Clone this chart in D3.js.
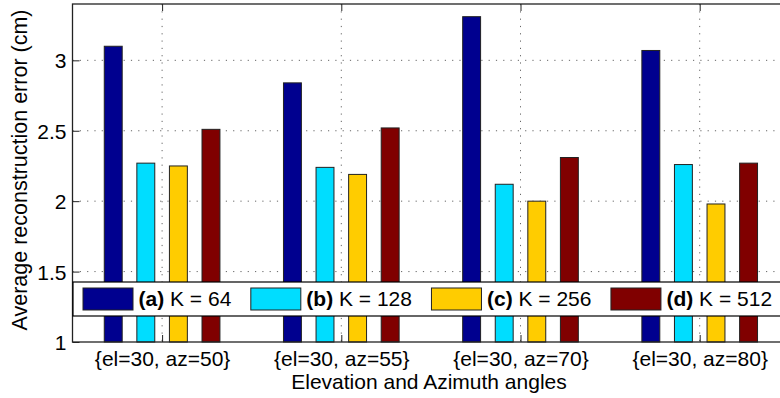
<!DOCTYPE html>
<html>
<head>
<meta charset="utf-8">
<script src="https://cdn.jsdelivr.net/npm/d3@7"></script>
<style>
  html, body { margin: 0; padding: 0; background: #fff; }
  svg { display: block; font-family: "Liberation Sans", Arial, sans-serif; }
</style>
</head>
<body>
<svg id="chart" width="780" height="398"></svg>
<script>
// Categories (viewing angles) and one series per dictionary size K
const categories = ["{el=30, az=50}", "{el=30, az=55}", "{el=30, az=70}", "{el=30, az=80}"];
const seriesNames = ["K = 64", "K = 128", "K = 256", "K = 512"];
const seriesTags = ["(a)", "(b)", "(c)", "(d)"];
const seriesColors = ["#00008f", "#00ddff", "#ffcc00", "#800000"];
const valuesK64 = [3.10, 2.84, 3.31, 3.07];
const valuesK128 = [2.27, 2.24, 2.12, 2.26];
const valuesK256 = [2.25, 2.19, 2.00, 1.98];
const valuesK512 = [2.51, 2.52, 2.31, 2.27];
const series = [valuesK64, valuesK128, valuesK256, valuesK512];
const yTicks = [1, 1.5, 2, 2.5, 3];
const yLabel = "Average reconstruction error (cm)";
const xLabel = "Elevation and Azimuth angles";

const svg = d3.select("#chart");
const fontSize = 21;

// Axes box (the right side runs past the canvas edge)
const plotLeft = 72.5, plotRight = 789.3, plotTop = 4, plotBottom = 342;
const x = d3.scaleLinear().domain([0.5, categories.length + 0.5]).range([plotLeft, plotRight]);
const y = d3.scaleLinear().domain([1, 3.4]).range([plotBottom, plotTop]);

const barOffsets = [-0.2727, -0.0909, 0.0909, 0.2727];
const barWidth = 0.1;

// Dotted grid
const grid = svg.append("g")
  .attr("stroke", "#666").attr("stroke-width", 1)
  .attr("stroke-dasharray", "1.2,6.1").attr("fill", "none");
grid.selectAll("line.h").data(yTicks.filter(t => t > 1)).join("line")
  .attr("x1", plotLeft).attr("x2", plotRight)
  .attr("y1", d => y(d)).attr("y2", d => y(d));
grid.selectAll("line.v").data(categories.map((c, i) => i + 1)).join("line")
  .attr("x1", d => x(d)).attr("x2", d => x(d))
  .attr("y1", plotTop).attr("y2", plotBottom);

// Bars
const bars = svg.append("g");
series.forEach((vals, s) => {
  bars.selectAll(null).data(vals).join("rect")
    .attr("x", (d, i) => x(i + 1 + barOffsets[s] - barWidth / 2))
    .attr("width", x(barWidth) - x(0))
    .attr("y", d => y(d))
    .attr("height", d => y(1) - y(d))
    .attr("fill", seriesColors[s])
    .attr("stroke", "#222").attr("stroke-width", 1);
});

// Axes with inward ticks, using d3 axis generators
const xAxisBottom = d3.axisBottom(x).tickValues(categories.map((c, i) => i + 1))
  .tickSizeInner(-7).tickSizeOuter(0).tickFormat((d) => categories[d - 1]);
const xAxisTop = d3.axisTop(x).tickValues(categories.map((c, i) => i + 1))
  .tickSizeInner(-7).tickSizeOuter(0).tickFormat("");
const yAxisLeft = d3.axisLeft(y).tickValues(yTicks)
  .tickSizeInner(-7).tickSizeOuter(0).tickFormat(d3.format("")).tickPadding(6);

function styleAxis(g) {
  g.select(".domain").remove();
  g.selectAll(".tick line").attr("stroke", "#222").attr("stroke-width", 1);
  g.selectAll(".tick text").attr("fill", "#000")
    .attr("font-size", fontSize).attr("font-family", "Liberation Sans, Arial, sans-serif");
}

svg.append("g").attr("transform", `translate(0,${plotBottom})`).call(xAxisBottom).call(styleAxis)
  .selectAll(".tick text").attr("dy", "0").attr("y", 24);
svg.append("g").attr("transform", `translate(0,${plotTop})`).call(xAxisTop).call(styleAxis);
svg.append("g").attr("transform", `translate(${plotLeft},0)`).call(yAxisLeft).call(styleAxis)
  .selectAll(".tick text").attr("dy", "0.36em");

// Box
svg.append("rect").attr("x", plotLeft).attr("y", plotTop)
  .attr("width", plotRight - plotLeft).attr("height", plotBottom - plotTop)
  .attr("fill", "none").attr("stroke", "#222").attr("stroke-width", 1.3);

// Axis titles
svg.append("text")
  .attr("x", 429).attr("y", 389)
  .attr("text-anchor", "middle").attr("font-size", fontSize).attr("fill", "#000")
  .text(xLabel);
svg.append("text")
  .attr("transform", "translate(27,170) rotate(-90)")
  .attr("text-anchor", "middle").attr("font-size", 21.5).attr("fill", "#000")
  .text(yLabel);

// Legend, one row along the bottom of the axes
const legend = svg.append("g");
legend.append("rect").attr("x", 73).attr("y", 282).attr("width", 716).attr("height", 34)
  .attr("fill", "#fff").attr("stroke", "#000").attr("stroke-width", 1.2);
let lx = 83;
seriesNames.forEach((name, s) => {
  legend.append("rect").attr("x", lx).attr("y", 288).attr("width", 50).attr("height", 22)
    .attr("fill", seriesColors[s]).attr("stroke", "#222").attr("stroke-width", 1);
  const t = legend.append("text").attr("x", lx + 55.5).attr("y", 306)
    .attr("font-size", fontSize).attr("fill", "#000");
  t.append("tspan").attr("font-weight", "bold").text(seriesTags[s]);
  t.append("tspan").text(" " + name);
  lx += 55.5 + t.node().getComputedTextLength() + 19.5;
});
</script>
</body>
</html>
